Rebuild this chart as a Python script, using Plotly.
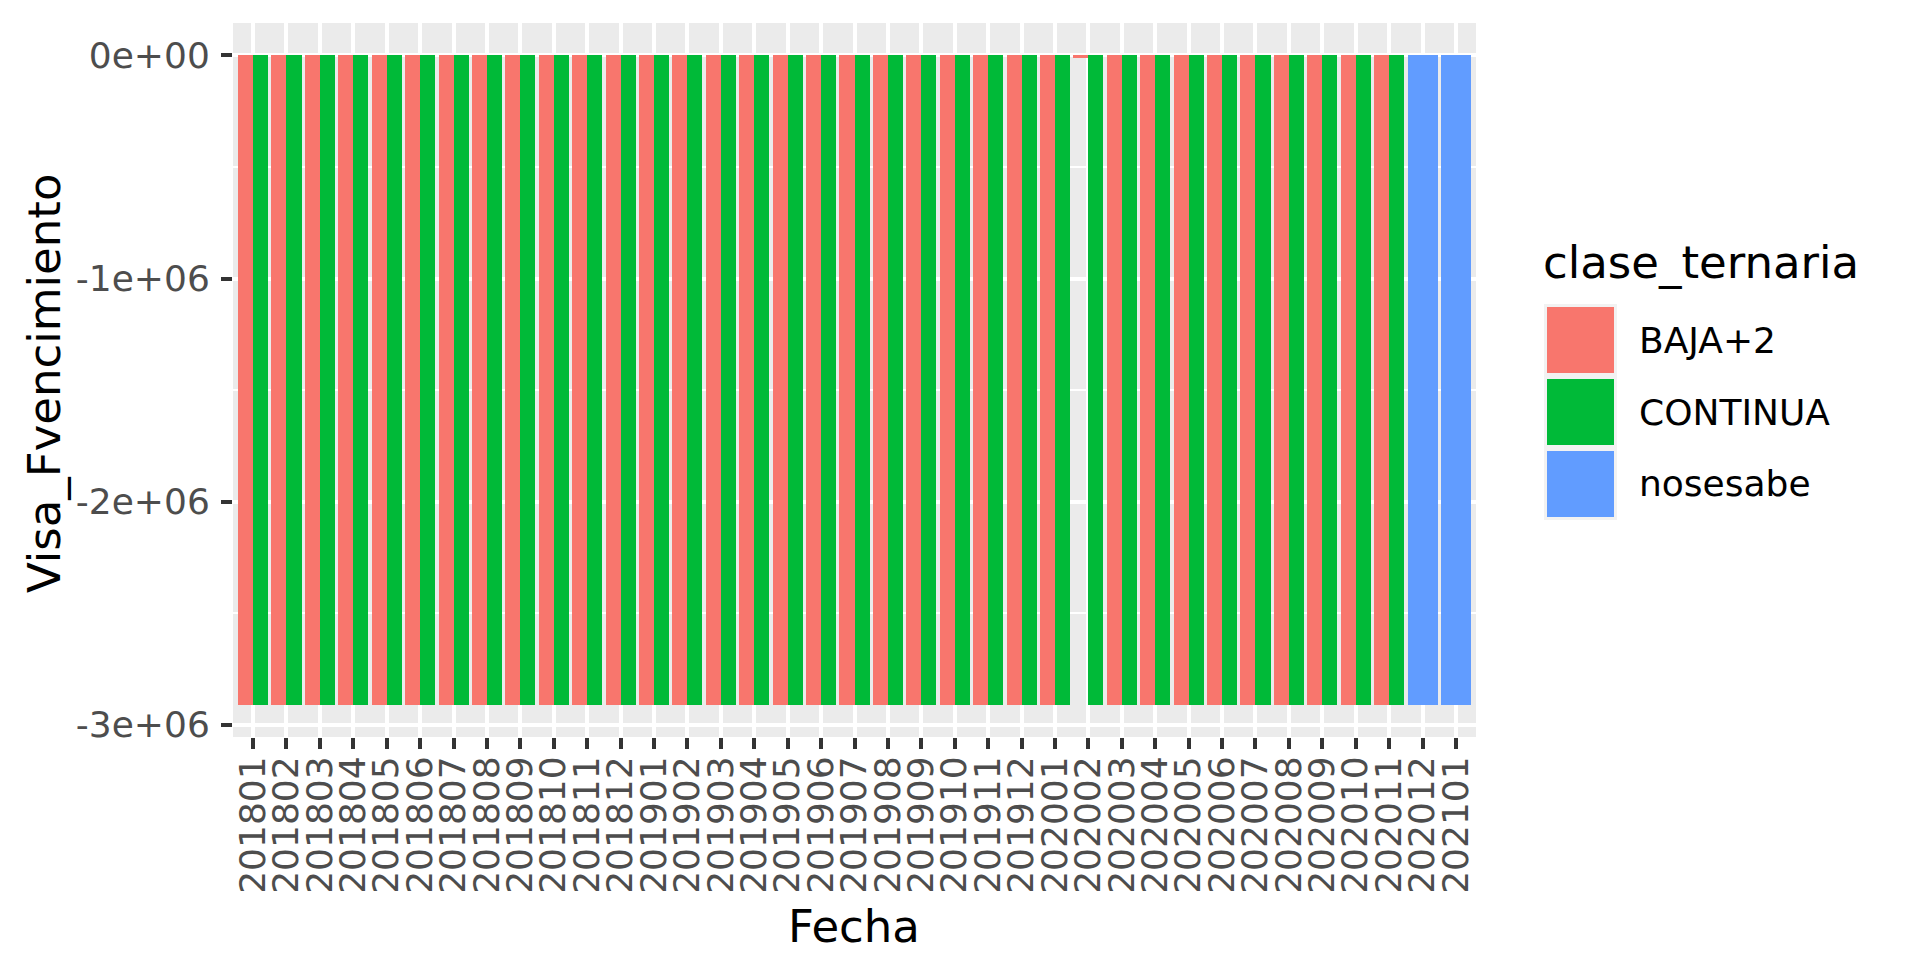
import plotly.graph_objects as go

# ---------------- data ----------------
fechas = ["201801", "201802", "201803", "201804", "201805", "201806", "201807", "201808",
          "201809", "201810", "201811", "201812", "201901", "201902", "201903", "201904",
          "201905", "201906", "201907", "201908", "201909", "201910", "201911", "201912",
          "202001", "202002", "202003", "202004", "202005", "202006", "202007", "202008",
          "202009", "202010", "202011", "202012", "202101"]

fechas_baja = fechas[:35]
fechas_continua = fechas[:35]
fechas_nosesabe = ["202012", "202101"]

baja2 = [-2910000, -2910000, -2910000, -2910000, -2910000, -2910000, -2910000, -2910000,
         -2910000, -2910000, -2910000, -2910000, -2910000, -2910000, -2910000, -2910000,
         -2910000, -2910000, -2910000, -2910000, -2910000, -2910000, -2910000, -2910000,
         -2910000, -10000, -2910000, -2910000, -2910000, -2910000, -2910000, -2910000,
         -2910000, -2910000, -2910000]
continua = [-2910000, -2910000, -2910000, -2910000, -2910000, -2910000, -2910000, -2910000,
            -2910000, -2910000, -2910000, -2910000, -2910000, -2910000, -2910000, -2910000,
            -2910000, -2910000, -2910000, -2910000, -2910000, -2910000, -2910000, -2910000,
            -2910000, -2910000, -2910000, -2910000, -2910000, -2910000, -2910000, -2910000,
            -2910000, -2910000, -2910000]
nosesabe = [-2910000, -2910000]

y_tickvals = [0, -1000000, -2000000, -3000000]
y_ticktext = ["0e+00", "-1e+06", "-2e+06", "-3e+06"]

series_names = ["BAJA+2", "CONTINUA", "nosesabe"]
series_colors = ["#F8766D", "#00BA38", "#619CFF"]

# ---------------- layout geometry ----------------
W, H = 1912, 974
L, R, T, B = 233, 436, 23, 237
PW, PH = W - L - R, H - T - B
FONT = "DejaVu Sans"
TICK_SIZE = 36
TITLE_SIZE = 45


def px_x(px):
    return (px - L) / PW


def px_y(py):
    return (H - B - py) / PH


fig = go.Figure()
fig.add_trace(go.Bar(x=fechas_baja, y=baja2, name=series_names[0],
                     marker=dict(color=series_colors[0], line=dict(width=0)),
                     offset=-0.45, width=0.45, showlegend=False))
fig.add_trace(go.Bar(x=fechas_continua, y=continua, name=series_names[1],
                     marker=dict(color=series_colors[1], line=dict(width=0)),
                     offset=0.0, width=0.45, showlegend=False))
fig.add_trace(go.Bar(x=fechas_nosesabe, y=nosesabe, name=series_names[2],
                     marker=dict(color=series_colors[2], line=dict(width=0)),
                     offset=-0.45, width=0.9, showlegend=False))

ymin = min(baja2 + continua + nosesabe)
ymax = 0
span = ymax - ymin

fig.update_layout(
    width=W, height=H, autosize=False,
    margin=dict(l=L, r=R, t=T, b=B, pad=0),
    paper_bgcolor="white", plot_bgcolor="#EBEBEB",
    barmode="overlay", bargap=0,
    font=dict(family=FONT, color="#4D4D4D", size=TICK_SIZE),
    showlegend=False,
)

fig.update_xaxes(
    type="category", categoryorder="array", categoryarray=fechas,
    range=[-0.6, len(fechas) - 1 + 0.6],
    tickmode="array", tickvals=fechas, ticktext=fechas,
    showgrid=True, gridcolor="white", gridwidth=4.25,
    zeroline=False, showline=False,
    ticks="outside", ticklen=11, tickwidth=4.25, tickcolor="#333333",
    tickangle=-90, tickfont=dict(family=FONT, size=TICK_SIZE, color="#4D4D4D"),
    ticklabelstandoff=-7,
)
fig.update_yaxes(
    range=[ymin - 0.05 * span, ymax + 0.05 * span],
    tickvals=y_tickvals, ticktext=y_ticktext,
    showgrid=True, gridcolor="white", gridwidth=4.25,
    minor=dict(dtick=500000, tick0=0, showgrid=True, gridcolor="white", gridwidth=2.1, ticks=""),
    zeroline=False, showline=False,
    ticks="outside", ticklen=11, tickwidth=4.25, tickcolor="#333333",
    tickfont=dict(family=FONT, size=TICK_SIZE, color="#4D4D4D"),
    ticklabelstandoff=4,
)

annotations = [
    dict(text="Fecha", xref="paper", yref="paper", x=px_x(854), y=px_y(926),
         xanchor="center", yanchor="middle", showarrow=False,
         font=dict(family=FONT, size=TITLE_SIZE, color="black")),
    dict(text="Visa_Fvencimiento", xref="paper", yref="paper", x=px_x(44), y=px_y(383),
         xanchor="center", yanchor="middle", showarrow=False, textangle=-90,
         font=dict(family=FONT, size=TITLE_SIZE, color="black")),
    dict(text="clase_ternaria", xref="paper", yref="paper", x=px_x(1541), y=px_y(262),
         xanchor="left", yanchor="middle", showarrow=False,
         font=dict(family=FONT, size=TITLE_SIZE, color="black")),
]

shapes = [dict(type="rect", xref="paper", yref="paper", x0=px_x(1544), x1=px_x(1617),
               y0=px_y(304), y1=px_y(520), fillcolor="#F2F2F2", line=dict(width=0), layer="above")]
for i, (name, col) in enumerate(zip(series_names, series_colors)):
    top = 307 + 72 * i
    shapes.append(dict(type="rect", xref="paper", yref="paper", x0=px_x(1547), x1=px_x(1614),
                       y0=px_y(top), y1=px_y(top + 66), fillcolor=col, line=dict(width=0),
                       layer="above"))
    annotations.append(dict(text=name, xref="paper", yref="paper", x=px_x(1637),
                            y=px_y(top + 33), xanchor="left", yanchor="middle", showarrow=False,
                            font=dict(family=FONT, size=TICK_SIZE, color="black")))

fig.update_layout(annotations=annotations, shapes=shapes)
fig.write_html("out.html")
